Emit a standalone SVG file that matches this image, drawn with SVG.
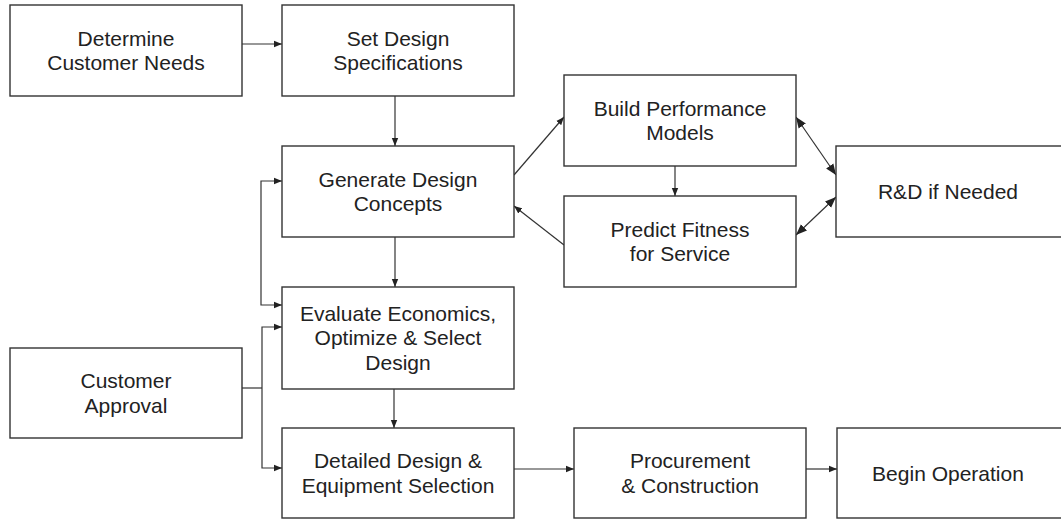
<svg xmlns="http://www.w3.org/2000/svg" width="1061" height="519" viewBox="0 0 1061 519">
<style>
rect.box{fill:#fff;stroke:#333;stroke-width:1.4}
text{font-family:"Liberation Sans",Arial,sans-serif;font-size:21px;fill:#222;text-anchor:middle}
.c{fill:none;stroke:#333;stroke-width:1.2}
</style>
<defs>
<marker id="a" viewBox="0 0 10 10" refX="10" refY="5" markerWidth="8" markerHeight="8" markerUnits="userSpaceOnUse" orient="auto-start-reverse">
<path d="M0,1 L10,5 L0,9 Z" fill="#222"/>
</marker>
<marker id="b" viewBox="0 0 10 10" refX="10" refY="5" markerWidth="11" markerHeight="11" markerUnits="userSpaceOnUse" orient="auto-start-reverse">
<path d="M0,1 L10,5 L0,9 Z" fill="#222"/>
</marker>
</defs>
<rect width="1061" height="519" fill="#fff"/>
<g id="connectors">
<path class="c" d="M242,44 H282" marker-end="url(#a)"/>
<path class="c" d="M395,96 V146" marker-end="url(#a)"/>
<path class="c" d="M395,237 V287" marker-end="url(#a)"/>
<path class="c" d="M394,389 V428" marker-end="url(#a)"/>
<path class="c" d="M282,181 H261 V305 H282" marker-start="url(#a)" marker-end="url(#a)"/>
<path class="c" d="M282,327 H262 V468 H282" marker-start="url(#a)" marker-end="url(#a)"/>
<path class="c" d="M242,388 H262"/>
<path class="c" d="M514,175 L564,117" marker-end="url(#a)"/>
<path class="c" d="M564,245 L514,206" marker-end="url(#a)"/>
<path class="c" d="M675,166 V196" marker-end="url(#a)"/>
<path class="c" d="M796,117 L836,175" marker-start="url(#b)" marker-end="url(#b)"/>
<path class="c" d="M796,235 L836,197" marker-start="url(#b)" marker-end="url(#b)"/>
<path class="c" d="M514,469 H574" marker-end="url(#a)"/>
<path class="c" d="M806,469 H837" marker-end="url(#a)"/>
</g>
<g id="n-determine">
<rect class="box" x="10" y="5" width="232" height="91"/>
<text x="126" y="45.7">Determine</text>
<text x="126" y="70.2">Customer Needs</text>
</g>
<g id="n-setdesign">
<rect class="box" x="282" y="5" width="232" height="91"/>
<text x="398" y="45.7">Set Design</text>
<text x="398" y="70.2">Specifications</text>
</g>
<g id="n-generate">
<rect class="box" x="282" y="146" width="232" height="91"/>
<text x="398" y="186.7">Generate Design</text>
<text x="398" y="211.2">Concepts</text>
</g>
<g id="n-build">
<rect class="box" x="564" y="75" width="232" height="91"/>
<text x="680" y="115.7">Build Performance</text>
<text x="680" y="140.2">Models</text>
</g>
<g id="n-predict">
<rect class="box" x="564" y="196" width="232" height="91"/>
<text x="680" y="236.7">Predict Fitness</text>
<text x="680" y="261.2">for Service</text>
</g>
<g id="n-rnd">
<rect class="box" x="836" y="146" width="240" height="91"/>
<text x="948" y="198.5">R&amp;D if Needed</text>
</g>
<g id="n-evaluate">
<rect class="box" x="282" y="287" width="232" height="102"/>
<text x="398" y="320.8">Evaluate Economics,</text>
<text x="398" y="345.3">Optimize &amp; Select</text>
<text x="398" y="369.8">Design</text>
</g>
<g id="n-approval">
<rect class="box" x="10" y="348" width="232" height="90"/>
<text x="126" y="388.2">Customer</text>
<text x="126" y="412.7">Approval</text>
</g>
<g id="n-detailed">
<rect class="box" x="282" y="428" width="232" height="90"/>
<text x="398" y="468.2">Detailed Design &amp;</text>
<text x="398" y="492.7">Equipment Selection</text>
</g>
<g id="n-procurement">
<rect class="box" x="574" y="428" width="232" height="90"/>
<text x="690" y="468.2">Procurement</text>
<text x="690" y="492.7">&amp; Construction</text>
</g>
<g id="n-begin">
<rect class="box" x="837" y="428" width="240" height="90"/>
<text x="948" y="481">Begin Operation</text>
</g>
</svg>
